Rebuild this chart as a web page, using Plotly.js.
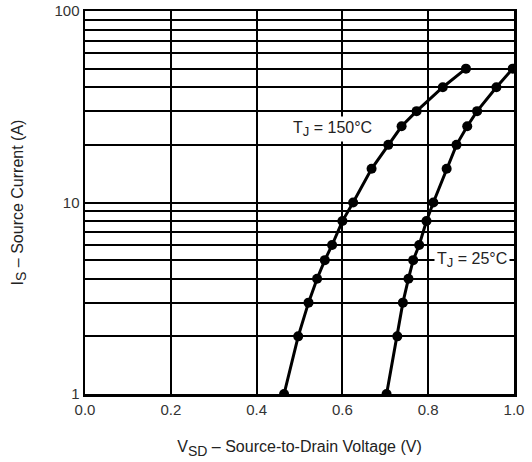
<!DOCTYPE html>
<html><head><meta charset="utf-8">
<script src="https://cdn.plot.ly/plotly-3.0.1.min.js"></script>
<style>html,body{margin:0;padding:0;background:#fff}</style>
</head><body>
<div id="chart" style="width:532px;height:462px"></div>
<script>
const current = [1, 2, 3, 4, 5, 6, 8, 10, 15, 20, 25, 30, 40, 50];
const vsd150 = [0.464, 0.497, 0.521, 0.541, 0.559, 0.576, 0.600, 0.625, 0.668, 0.707, 0.738, 0.773, 0.834, 0.888];
const vsd25 = [0.703, 0.728, 0.741, 0.754, 0.765, 0.779, 0.796, 0.812, 0.843, 0.866, 0.891, 0.914, 0.959, 0.997];
const yTickVals = [1, 10, 100];
const yTickText = ['1', '10', '100'];
const yMinorVals = [2,3,4,5,6,7,8,9,20,30,40,50,60,70,80,90];
const xTickVals = [0, 0.2, 0.4, 0.6, 0.8, 1.0];
const labels = [
  {text: 'T<sub><span style="font-size:13px">J</span></sub> = 150°C', x: 0.578, y: 24.3},
  {text: 'T<sub><span style="font-size:13px">J</span></sub> = 25°C', x: 0.903, y: 5}
];
const xTitle = 'V<sub><span style="font-size:14px">SD</span></sub> – Source-to-Drain Voltage (V)';
const yTitle = 'I<sub><span style="font-size:14px">S</span></sub> – Source Current (A)';

const tickFont = {family: 'Liberation Sans, Arial, sans-serif', size: 15, color: '#333'};
const titleFont = {family: 'Liberation Sans, Arial, sans-serif', size: 16, color: '#222'};
const lineStyle = {color: '#000', width: 3};
const markerStyle = {color: '#000', size: 10};

const traces = [
  {x: vsd150, y: current, mode: 'lines+markers', line: lineStyle, marker: markerStyle, showlegend: false, hoverinfo: 'none'},
  {x: vsd25, y: current, mode: 'lines+markers', line: lineStyle, marker: markerStyle, showlegend: false, hoverinfo: 'none'}
];

const layout = {
  width: 532, height: 462,
  margin: {l: 85, r: 18, t: 11, b: 68},
  paper_bgcolor: '#fff', plot_bgcolor: '#fff',
  font: tickFont,
  xaxis: {
    range: [0, 1], tickvals: xTickVals, tickformat: '.1f', tickfont: tickFont,
    showgrid: true, gridcolor: '#000', gridwidth: 2,
    showline: true, linecolor: '#000', linewidth: 2.5, mirror: true,
    zeroline: false, ticks: '', ticklen: 0,
    title: {text: xTitle, font: titleFont, standoff: 25}
  },
  yaxis: {
    type: 'log', range: [0, 2], tickvals: yTickVals, ticktext: yTickText, tickfont: tickFont,
    showgrid: true, gridcolor: '#000', gridwidth: 2,
    minor: {tickvals: yMinorVals, showgrid: true, gridcolor: '#000', gridwidth: 2, ticks: ''},
    showline: true, linecolor: '#000', linewidth: 2.5, mirror: true,
    zeroline: false, ticks: '', ticklen: 0,
    title: {text: yTitle, font: titleFont, standoff: 27}
  },
  annotations: labels.map(l => ({
    text: l.text, x: l.x, y: Math.log10(l.y), xref: 'x', yref: 'y',
    showarrow: false, bgcolor: '#fff', font: titleFont, borderpad: 2
  }))
};

Plotly.newPlot('chart', traces, layout, {staticPlot: true, displayModeBar: false});
</script>
</body></html>
